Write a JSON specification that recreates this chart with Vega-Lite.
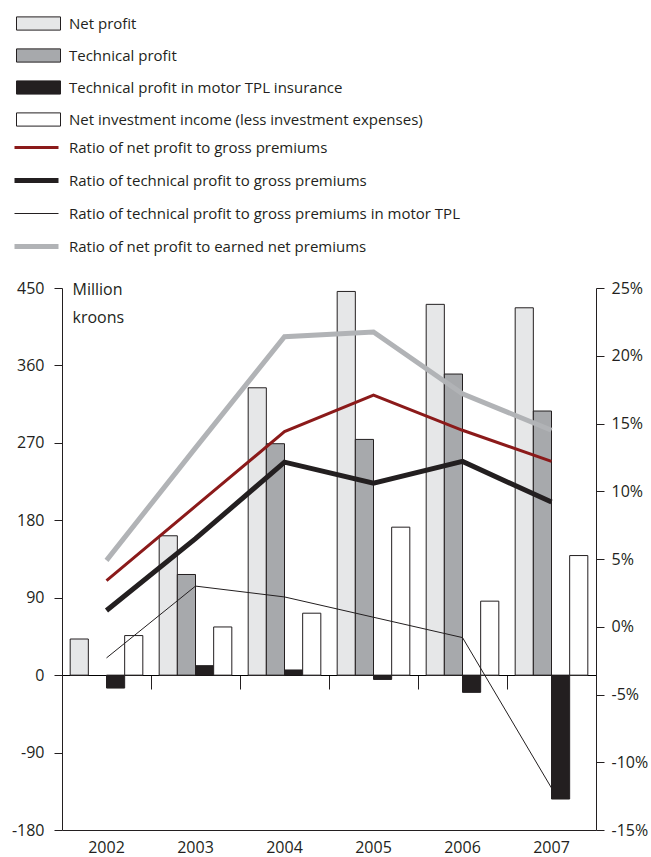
{
  "$schema": "https://vega.github.io/schema/vega-lite/v6.json",
  "width": 534,
  "height": 542,
  "autosize": {"type": "none"},
  "padding": {"left": 62, "top": 288, "right": 55, "bottom": 27},
  "background": "white",
  "config": {
    "font": "Open Sans",
    "view": {"stroke": null},
    "axis": {"grid": false, "domainColor": "#231f20", "tickColor": "#231f20", "labelColor": "#231f20", "titleColor": "#231f20", "labelFontSize": 16, "titleFontWeight": "normal"},
    "legend": {"labelFontSize": 15, "labelColor": "#231f20", "labelLimit": 600}
  },
  "datasets": {
    "bars": [
      {"year": "2002", "series": "Net profit", "value": 42},
      {"year": "2002", "series": "Technical profit in motor TPL insurance", "value": -15},
      {"year": "2002", "series": "Net investment income (less investment expenses)", "value": 46},
      {"year": "2003", "series": "Net profit", "value": 162},
      {"year": "2003", "series": "Technical profit", "value": 117},
      {"year": "2003", "series": "Technical profit in motor TPL insurance", "value": 11},
      {"year": "2003", "series": "Net investment income (less investment expenses)", "value": 56},
      {"year": "2004", "series": "Net profit", "value": 334},
      {"year": "2004", "series": "Technical profit", "value": 269},
      {"year": "2004", "series": "Technical profit in motor TPL insurance", "value": 6},
      {"year": "2004", "series": "Net investment income (less investment expenses)", "value": 72},
      {"year": "2005", "series": "Net profit", "value": 446},
      {"year": "2005", "series": "Technical profit", "value": 274},
      {"year": "2005", "series": "Technical profit in motor TPL insurance", "value": -5},
      {"year": "2005", "series": "Net investment income (less investment expenses)", "value": 172},
      {"year": "2006", "series": "Net profit", "value": 431},
      {"year": "2006", "series": "Technical profit", "value": 350},
      {"year": "2006", "series": "Technical profit in motor TPL insurance", "value": -20},
      {"year": "2006", "series": "Net investment income (less investment expenses)", "value": 86},
      {"year": "2007", "series": "Net profit", "value": 427},
      {"year": "2007", "series": "Technical profit", "value": 307},
      {"year": "2007", "series": "Technical profit in motor TPL insurance", "value": -144},
      {"year": "2007", "series": "Net investment income (less investment expenses)", "value": 139}
    ],
    "lines": [
      {"year": "2002", "series": "Ratio of net profit to gross premiums", "pct": 3.4},
      {"year": "2003", "series": "Ratio of net profit to gross premiums", "pct": 8.9},
      {"year": "2004", "series": "Ratio of net profit to gross premiums", "pct": 14.4},
      {"year": "2005", "series": "Ratio of net profit to gross premiums", "pct": 17.1},
      {"year": "2006", "series": "Ratio of net profit to gross premiums", "pct": 14.5},
      {"year": "2007", "series": "Ratio of net profit to gross premiums", "pct": 12.2},
      {"year": "2002", "series": "Ratio of technical profit to gross premiums", "pct": 1.2},
      {"year": "2003", "series": "Ratio of technical profit to gross premiums", "pct": 6.5},
      {"year": "2004", "series": "Ratio of technical profit to gross premiums", "pct": 12.15},
      {"year": "2005", "series": "Ratio of technical profit to gross premiums", "pct": 10.6},
      {"year": "2006", "series": "Ratio of technical profit to gross premiums", "pct": 12.2},
      {"year": "2007", "series": "Ratio of technical profit to gross premiums", "pct": 9.2},
      {"year": "2002", "series": "Ratio of technical profit to gross premiums in motor TPL", "pct": -2.3},
      {"year": "2003", "series": "Ratio of technical profit to gross premiums in motor TPL", "pct": 3.0},
      {"year": "2004", "series": "Ratio of technical profit to gross premiums in motor TPL", "pct": 2.2},
      {"year": "2005", "series": "Ratio of technical profit to gross premiums in motor TPL", "pct": 0.7},
      {"year": "2006", "series": "Ratio of technical profit to gross premiums in motor TPL", "pct": -0.8},
      {"year": "2007", "series": "Ratio of technical profit to gross premiums in motor TPL", "pct": -11.9},
      {"year": "2002", "series": "Ratio of net profit to earned net premiums", "pct": 4.9},
      {"year": "2003", "series": "Ratio of net profit to earned net premiums", "pct": 13.2},
      {"year": "2004", "series": "Ratio of net profit to earned net premiums", "pct": 21.4},
      {"year": "2005", "series": "Ratio of net profit to earned net premiums", "pct": 21.75},
      {"year": "2006", "series": "Ratio of net profit to earned net premiums", "pct": 17.2},
      {"year": "2007", "series": "Ratio of net profit to earned net premiums", "pct": 14.5}
    ]
  },
  "layer": [
    {
      "data": {"name": "bars"},
      "mark": {"type": "bar", "stroke": "#231f20", "strokeWidth": 1},
      "encoding": {
        "x": {
          "field": "year", "type": "ordinal",
          "scale": {"paddingInner": 0, "paddingOuter": 0},
          "axis": {"orient": "bottom", "title": null, "ticks": false, "labelAngle": 0, "labelPadding": 9, "domainWidth": 1}
        },
        "xOffset": {
          "field": "series", "type": "nominal",
          "sort": ["Net profit", "Technical profit", "Technical profit in motor TPL insurance", "Net investment income (less investment expenses)"],
          "scale": {"paddingInner": 0, "paddingOuter": 0.45}
        },
        "y": {
          "field": "value", "type": "quantitative",
          "scale": {"domain": [-180, 450], "nice": false, "zero": false},
          "axis": {
            "orient": "left", "values": [-180, -90, 0, 90, 180, 270, 360, 450],
            "labelExpr": "'' + datum.value",
            "tickSize": 8, "labelPadding": 10,
            "title": ["Million", "kroons"], "titleAngle": 0, "titleAlign": "left", "titleBaseline": "top",
            "titleX": 10, "titleY": -7, "titleFontSize": 16, "titleLineHeight": 28
          }
        },
        "fill": {
          "field": "series", "type": "nominal",
          "scale": {
            "domain": ["Net profit", "Technical profit", "Technical profit in motor TPL insurance", "Net investment income (less investment expenses)"],
            "range": ["#e6e7e8", "#a7a9ac", "#231f20", "#ffffff"]
          },
          "legend": {
            "orient": "none", "legendX": -46, "legendY": -287, "title": null,
            "symbolType": "M-1,-0.3H1V0.3H-1Z", "symbolSize": 1936,
            "symbolStrokeColor": "#231f20", "symbolStrokeWidth": 1,
            "labelOffset": 8, "rowPadding": -3
          }
        }
      }
    },
    {
      "data": {"name": "lines"},
      "mark": {"type": "line"},
      "encoding": {
        "x": {
          "field": "year", "type": "ordinal",
          "axis": {"orient": "bottom", "offset": -155, "title": null, "labels": false, "ticks": true, "tickSize": 14, "tickBand": "extent", "domainColor": "#000000"}
        },
        "y": {
          "field": "pct", "type": "quantitative",
          "scale": {"domain": [-15, 25], "nice": false, "zero": false},
          "axis": {"orient": "right", "values": [-15, -10, -5, 0, 5, 10, 15, 20, 25], "labelExpr": "datum.value + '%'", "tickSize": 8, "labelPadding": 7, "title": null}
        },
        "stroke": {
          "field": "series", "type": "nominal",
          "scale": {
            "domain": ["Ratio of net profit to gross premiums", "Ratio of technical profit to gross premiums", "Ratio of technical profit to gross premiums in motor TPL", "Ratio of net profit to earned net premiums"],
            "range": ["#8b1a1a", "#231f20", "#231f20", "#b1b3b6"]
          },
          "legend": {
            "orient": "none", "legendX": -50, "legendY": -164, "title": null,
            "symbolSize": 1936, "labelOffset": 8, "rowPadding": -4
          }
        },
        "strokeWidth": {
          "field": "series", "type": "ordinal",
          "scale": {
            "type": "ordinal",
            "domain": ["Ratio of net profit to gross premiums", "Ratio of technical profit to gross premiums", "Ratio of technical profit to gross premiums in motor TPL", "Ratio of net profit to earned net premiums"],
            "range": [3, 5, 1, 5]
          }
        }
      }
    }
  ],
  "resolve": {"scale": {"y": "independent"}, "axis": {"x": "independent"}}
}
